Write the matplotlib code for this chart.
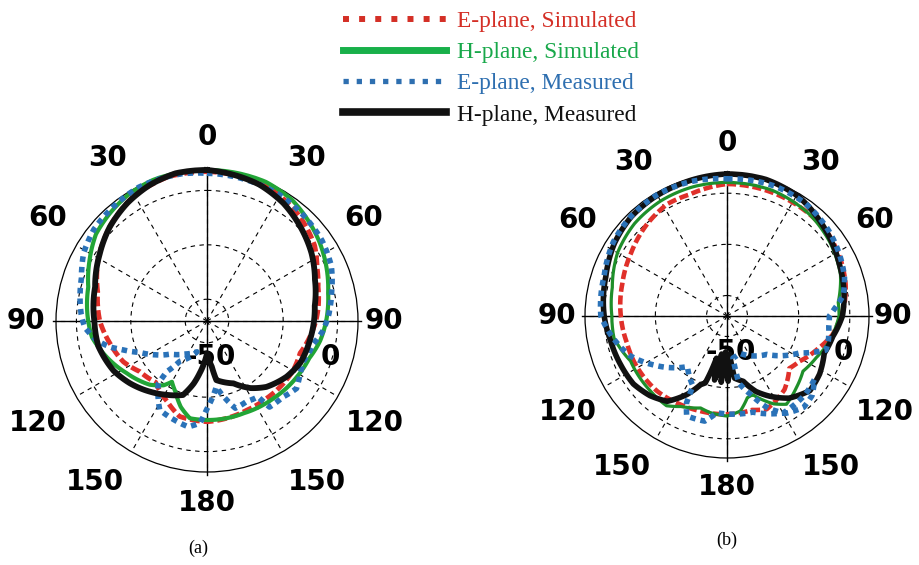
import numpy as np
import matplotlib
matplotlib.use("Agg")
import matplotlib.pyplot as plt
from matplotlib.lines import Line2D

# radial scale (dB) and grid
R_MIN, R_MAX = -48, 7.5
R_GRID = [-40, -20, 0]
ang_ticks = list(range(0, 360, 30))
ang_labels = ['0', '30', '60', '90', '120', '150', '180', '150', '120', '90', '60', '30']
# where the angle labels sit, in units of the outer radius (x right, y down)
lab_dx = [0, 0.66, 1.04, 1.17, 1.11, 0.73, 0, -0.74, -1.12, -1.2, -1.055, -0.66]
lab_dy = [-1.218, -1.082, -0.679, 0, 0.676, 1.065, 1.205, 1.065, 0.676, 0, -0.679, -1.082]

# ---- (a) ----
a_hmeas_th = [0, 21, 33, 45, 57, 69, 82, 100, 114, 125, 138, 147, 157, 171, 174, 180, 188, 192,
              198, 209, 219, 231, 242, 257, 270, 287, 302, 314, 326, 337, 348, 360]
a_hmeas_db = [7.5, 5.7, 3.6, 0.7, -2.2, -5.5, -8.0, -9.5, -10.4, -12.3, -15.4, -18.6, -23.1, -26.0, -31.1, -36.1, -28.6, -24.5,
              -19.4, -17.0, -14.6, -11.6, -9.1, -7.0, -6.6, -5.0, -1.5, 1.7, 4.3, 6.2, 7.5, 7.5]

a_hsim_th = [0, 23, 35, 55, 77, 90, 100, 110, 122, 139, 158, 178, 190, 197, 204, 210, 214, 222,
             237, 250, 262, 273, 286, 297, 308, 318, 329, 339, 360]
a_hsim_db = [7.5, 7.5, 6.4, 2.5, -2.3, -4.2, -5.8, -8.0, -9.1, -10.5, -11.5, -11.6, -11.7, -15.0, -19.5, -22.2, -19.5, -16.5,
             -12.8, -8.9, -5.3, -4.0, -2.6, 0.5, 3.8, 5.3, 6.8, 7.5, 7.5]

a_esim_th = [0, 20, 30, 42, 55, 64, 73, 83, 90, 100, 109, 120, 142, 156, 167, 180, 196, 206,
             220, 233, 244, 257, 270, 285, 300, 315, 330, 345, 360]
a_esim_db = [6.9, 6.4, 5.3, 3.3, 0.3, -3.0, -5.3, -6.8, -8.0, -10.0, -11.8, -11.5, -12.1, -12.1, -11.6, -11.0, -11.5, -14.9,
             -18.6, -17.1, -13.8, -11.4, -8.6, -6.4, -1.9, 2.0, 5.3, 6.9, 6.9]

a_emeas_th = [0, 30, 42, 55, 66, 77, 88, 95, 102, 113, 119, 127, 135, 144, 146, 154, 162, 166, 172, 180,
              184, 190, 199, 208, 218, 218.5, 214, 198, 214, 228, 237, 245, 251, 255, 260, 267, 273,
              289, 299, 309, 319, 333, 350, 360]
a_emeas_db = [6.3, 5.5, 4.6, 3.6, 2.0, -1.0, -3.4, -5.3, -8.0, -9.6, -8.8, -6.8, -8.5, -8.9, -14.4, -15.0, -14.3, -18.1, -23.6, -15.8,
              -10.4, -8.5, -9.8, -11.0, -18.9, -24.1, -30.1, -36.1, -33.4, -29.8, -25.2, -20.7, -15.4, -11.1, -6.9, -3.0, -1.7,
              0.8, 3.8, 5.5, 6.2, 7.2, 6.9, 6.3]

# ---- (b) ----
b_hmeas_th = [0, 16, 31, 49, 65, 79, 90, 101, 111, 122, 132, 143, 152, 159, 166, 173, 176, 179, 182, 185,
              188, 191, 194, 198, 201, 207, 215, 224, 234, 245, 258, 270, 288, 303, 316, 328, 340, 360]
b_hmeas_db = [7.5, 7.5, 6.4, 3.1, 0.4, -1.4, -2.9, -5.9, -7.3, -5.3, -4.4, -7.8, -12.5, -16.4, -21.7, -23.5, -33.0, -22.5, -34.0, -22.0,
              -33.0, -22.5, -31.0, -20.5, -19.3, -13.6, -7.3, -4.7, -2.8, -2.3, -1.5, 0.0, 1.8, 4.4, 5.9, 6.4, 6.7, 7.5]

b_hsim_th = [0, 20, 40, 55, 70, 83, 90, 104, 115, 126, 136, 146, 152, 162, 166, 172, 180, 190,
             196, 207, 214, 225, 245, 259, 270, 284, 300, 315, 330, 345, 360]
b_hsim_db = [4.2, 4.2, 3.1, 1.4, -0.8, -4.2, -4.2, -6.8, -9.5, -11.3, -9.0, -6.4, -9.1, -15.7, -15.1, -10.5, -8.9, -9.7,
             -10.6, -8.3, -5.7, -6.1, -6.4, -3.0, -3.0, -1.8, 1.4, 3.1, 3.9, 4.2, 4.2]

b_esim_th = [0, 30, 50, 65, 75, 85, 92, 100, 110, 122, 130, 142, 157, 165, 180, 196, 208, 223,
             244, 255, 270, 287, 303, 319, 332, 343, 360]
b_esim_db = [3.6, 3.3, 3.1, 1.4, 0.0, -2.0, -4.0, -6.1, -10.3, -14.6, -16.2, -11.5, -8.4, -10.0, -9.6, -9.4, -8.9, -7.9,
             -7.5, -7.5, -6.5, -5.2, -3.2, -0.4, 1.6, 1.7, 3.6]

b_emeas_th = [0, 20, 35, 50, 62, 72, 80, 86, 90, 96, 104, 109, 117, 134, 161, 172, 170, 163, 156, 149,
              140, 133, 126, 135, 150, 165, 180, 186, 192, 202, 205, 206, 218, 226, 236, 248, 261,
              270, 288, 303, 316, 330, 345, 360]
b_emeas_db = [5.6, 6.1, 5.6, 3.9, 2.0, 0.3, -1.9, -5.8, -8.0, -8.0, -7.2, -7.1, -16.2, -26.4, -32.6, -31.4, -21.4, -15.8, -8.6, -3.6,
              -1.4, -2.5, -5.8, -4.7, -4.2, -9.1, -9.7, -10.0, -6.0, -5.9, -10.6, -17.6, -22.9, -18.9, -13.7, -6.9, -1.9,
              1.3, 2.5, 5.0, 6.1, 6.7, 6.4, 5.6]

RED = '#e0302a'
GREEN = '#22a536'
BLUE = '#2a72b8'
BLACK = '#111111'

W, H = 919, 565
fig = plt.figure(figsize=(W / 100, H / 100), dpi=100)


def make_polar(cx, cy, rad):
    ax = fig.add_axes([(cx - rad) / W, (H - cy - rad) / H, 2 * rad / W, 2 * rad / H], projection='polar')
    ax.set_theta_zero_location('N')
    ax.set_theta_direction(-1)
    ax.set_rlim(R_MIN, R_MAX)
    ax.set_rgrids(R_GRID, labels=['', '', ''])
    ax.set_thetagrids(ang_ticks, labels=[''] * len(ang_ticks))
    ax.grid(True, color='k', linestyle=(0, (4, 4)), linewidth=0.8)
    ax.spines['polar'].set_linewidth(0.9)
    for t in [0, 90, 180, 270]:
        ax.plot([np.deg2rad(t)] * 2, [R_MIN, R_MAX + 1.2], color='k', lw=1.0, clip_on=False, zorder=1)
    for lab, dx, dy in zip(ang_labels, lab_dx, lab_dy):
        ax.text(0.5 + 0.5 * dx, 0.5 - 0.5 * dy, lab, transform=ax.transAxes, ha='center', va='center',
                fontsize=20, fontweight='bold')
    # radial range labels
    ax.annotate('-50', xy=(0, R_MIN), xytext=(3, -26), textcoords='offset points',
                ha='center', va='center', fontsize=20, fontweight='bold', zorder=0)
    ax.annotate('0', xy=(np.pi / 2, 0), xytext=(-5, -26), textcoords='offset points',
                ha='center', va='center', fontsize=20, fontweight='bold', zorder=0)
    return ax


def draw(ax, th, db, **kw):
    ln, = ax.plot(np.deg2rad(th), db, clip_on=False, **kw)
    ln.get_path()._interpolation_steps = 12  # draw segments as polar arcs


axa = make_polar(207, 321, 151)
draw(axa, a_esim_th, a_esim_db, color=RED, lw=3.5, linestyle=(0, (2, 0.8)), zorder=3)
draw(axa, a_hsim_th, a_hsim_db, color=GREEN, lw=3.0, zorder=3)
draw(axa, a_emeas_th, a_emeas_db, color=BLUE, lw=4.0, linestyle=(0, (1, 0.9)), zorder=4)
draw(axa, a_hmeas_th, a_hmeas_db, color=BLACK, lw=4.2, zorder=5)

axb = make_polar(727, 316, 142)
draw(axb, b_esim_th, b_esim_db, color=RED, lw=3.3, linestyle=(0, (2, 0.8)), zorder=3)
draw(axb, b_hsim_th, b_hsim_db, color='#1e8f2a', lw=2.3, zorder=3)
draw(axb, b_hmeas_th, b_hmeas_db, color=BLACK, lw=4.0, zorder=4)
draw(axb, b_emeas_th, b_emeas_db, color=BLUE, lw=4.0, linestyle=(0, (1, 0.9)), zorder=5)

fig.text(198 / W, 1 - 548 / H, '(a)', ha='center', va='center', fontsize=13, family='Liberation Serif')
fig.text(727 / W, 1 - 540 / H, '(b)', ha='center', va='center', fontsize=13, family='Liberation Serif')

handles = [
    Line2D([], [], color='#d42f26', lw=4.3, linestyle=(0, (1, 1.7))),
    Line2D([], [], color='#18b04a', lw=5.0),
    Line2D([], [], color='#2e6fb0', lw=3.8, linestyle=(0, (1, 1.5))),
    Line2D([], [], color=BLACK, lw=5.5),
]
labels = ['E-plane, Simulated', 'H-plane, Simulated', 'E-plane, Measured', 'H-plane, Measured']
fig.legend(handles, labels, loc='upper center', bbox_to_anchor=(491 / W, 1.018), frameon=False,
           prop={'family': 'Liberation Serif', 'size': 16.8}, handlelength=4.4, handletextpad=0.5,
           labelspacing=0.42, labelcolor=['#d42f26', '#18a84a', '#2e6fb0', BLACK])

fig.savefig('out.png', dpi=100)
